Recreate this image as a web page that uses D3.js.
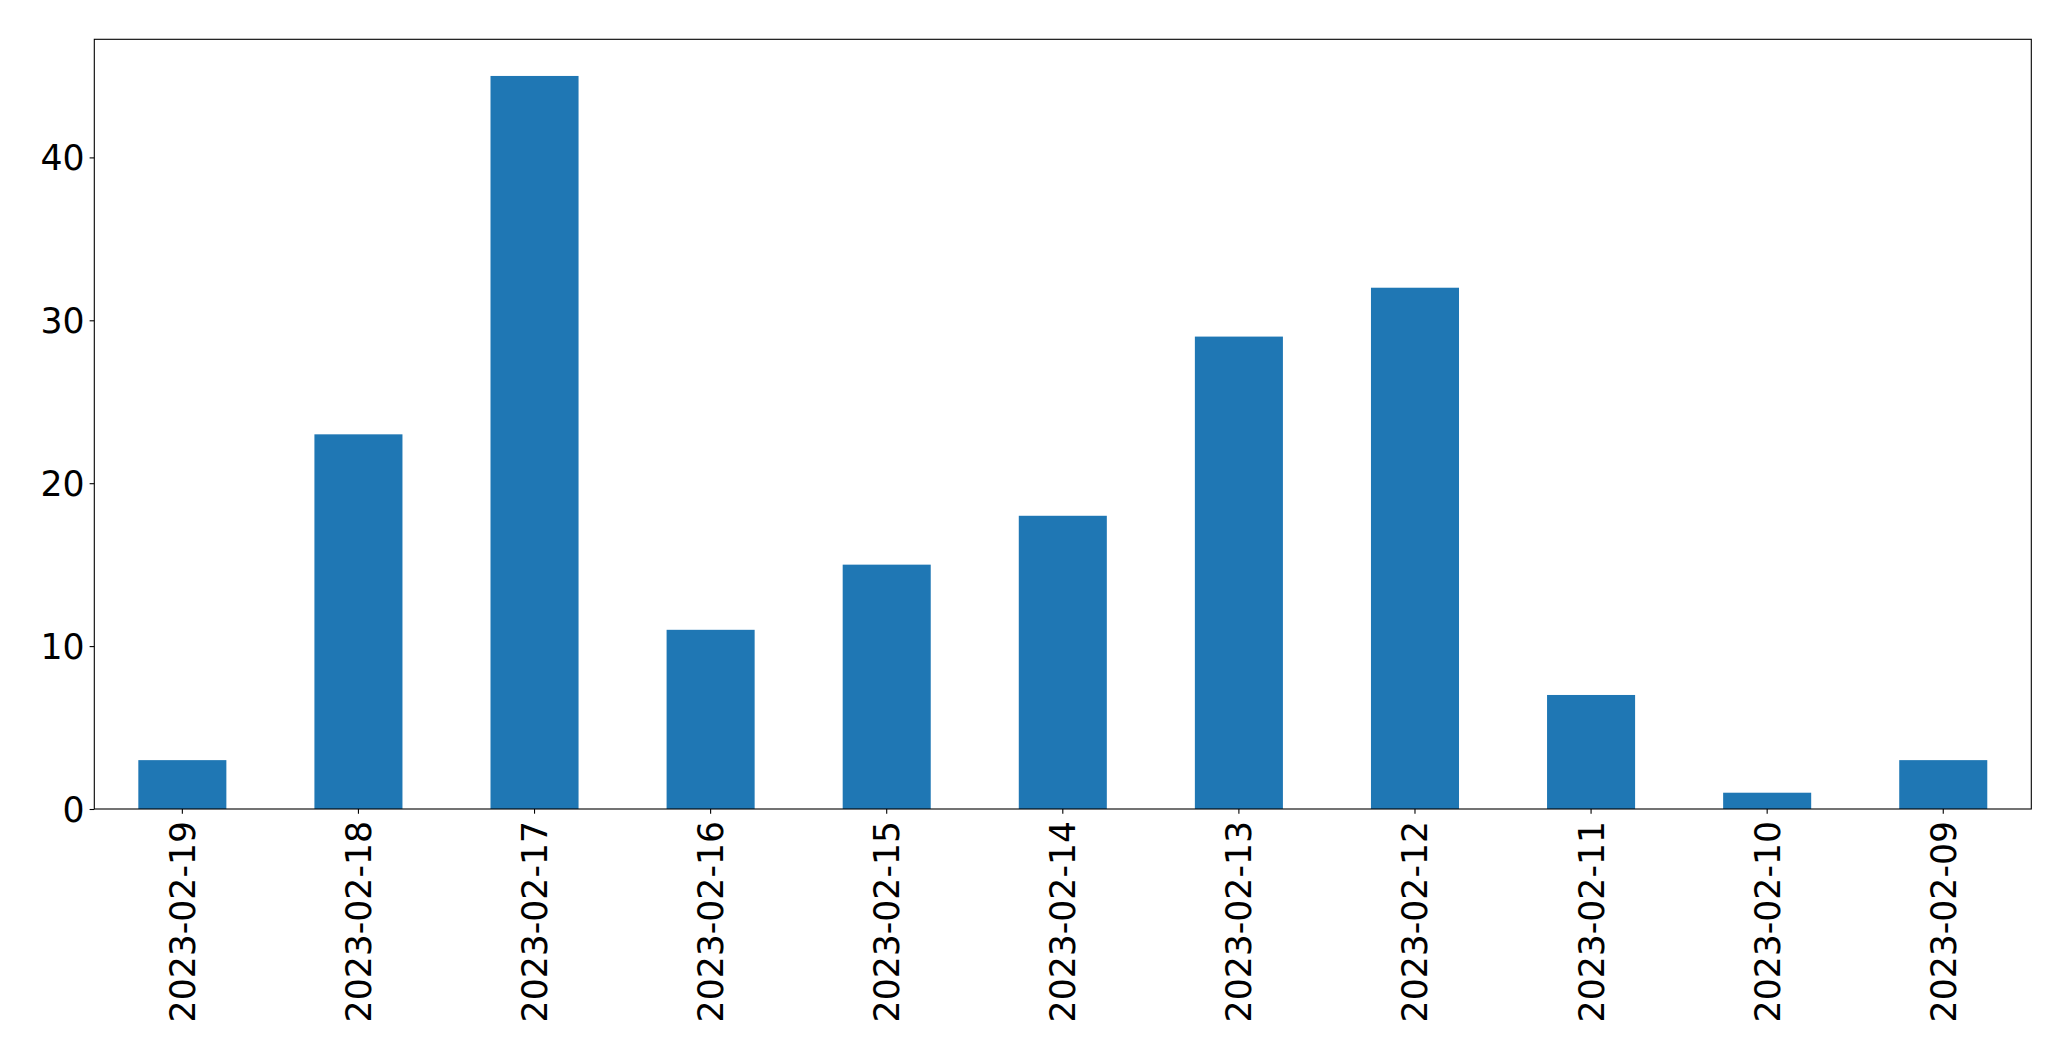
<!DOCTYPE html>
<html>
<head>
<meta charset="utf-8">
<script src="https://cdn.jsdelivr.net/npm/d3@7"></script>
<style>
html,body{margin:0;padding:0;background:#fff;}
svg{display:block;}
text{font-family:"DejaVu Sans",sans-serif;fill:#000;}
</style>
</head>
<body>
<svg id="chart" width="2071" height="1061"></svg>
<script>
const categories = ["2023-02-19","2023-02-18","2023-02-17","2023-02-16","2023-02-15","2023-02-14","2023-02-13","2023-02-12","2023-02-11","2023-02-10","2023-02-09"];
const values = [3,23,45,11,15,18,29,32,7,1,3];
const yTicks = [0,10,20,30,40];

const W = 2071, H = 1061;
const m = {left:94.3, right:2031.3, top:39.3, bottom:809};
const svg = d3.select("#chart");

const x = d3.scaleBand().domain(categories).range([m.left, m.right]).paddingInner(0.5).paddingOuter(0.25);
const yMax = d3.max(values) * 1.05;
const y = d3.scaleLinear().domain([0, yMax]).range([m.bottom, m.top]);

svg.append("g").selectAll("rect").data(values).join("rect")
  .attr("x", (d,i) => x(categories[i]))
  .attr("width", x.bandwidth())
  .attr("y", d => y(d))
  .attr("height", d => y(0) - y(d))
  .attr("fill", "#1f77b4");

const fs = 34.67;
const yAxis = svg.append("g").attr("transform", `translate(${m.left},0)`)
  .call(d3.axisLeft(y).tickValues(yTicks).tickSize(4.7).tickPadding(5).tickFormat(d3.format("d")));
yAxis.select(".domain").remove();
yAxis.selectAll("line").attr("stroke","#000").attr("stroke-width",1.1);
yAxis.selectAll("text").style("font-size", fs+"px").attr("dy","0.36em");

const xAxis = svg.append("g").attr("transform", `translate(0,${m.bottom})`)
  .call(d3.axisBottom(x).tickSize(4.7).tickPadding(0));
xAxis.select(".domain").remove();
xAxis.selectAll("line").attr("stroke","#000").attr("stroke-width",1.1);
xAxis.selectAll("text")
  .style("font-size", fs+"px")
  .attr("text-anchor","end")
  .attr("transform","rotate(-90)")
  .attr("x", -12)
  .attr("y", 0)
  .attr("dy","0.36em");

svg.append("rect")
  .attr("x", m.left).attr("y", m.top)
  .attr("width", m.right - m.left).attr("height", m.bottom - m.top)
  .attr("fill","none").attr("stroke","#000").attr("stroke-width",1.1);
</script>
</body>
</html>
